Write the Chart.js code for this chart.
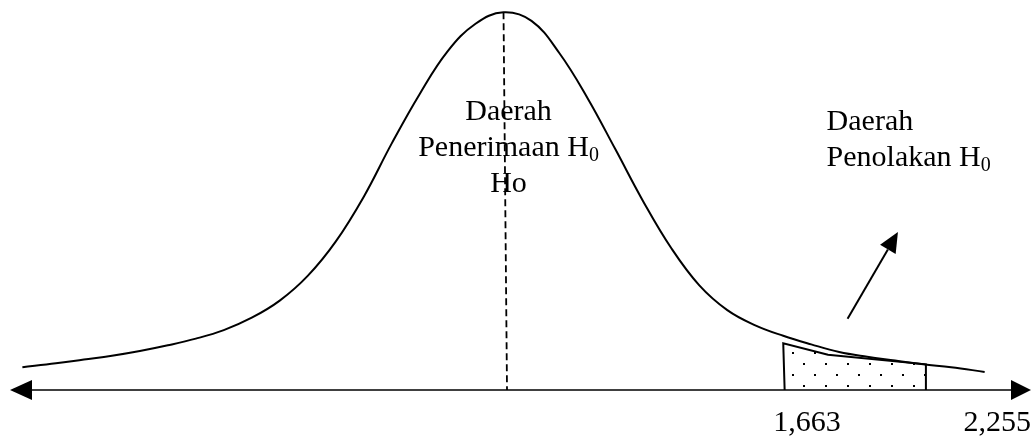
<!DOCTYPE html>
<html>
<head>
<meta charset="utf-8">
<script src="https://cdn.jsdelivr.net/npm/chart.js@4/dist/chart.umd.min.js"></script>
<style>
  html, body { margin: 0; padding: 0; background: #ffffff; }
  #wrap { width: 1035px; height: 438px; }
</style>
</head>
<body>
<div id="wrap"><canvas id="curveChart" width="1035" height="438"></canvas></div>
<script>
// ================= DATA =================

// bell curve (x in t-like units, y = height above axis)
const curveX = [-3.44, -3.2, -3.0, -2.8, -2.6, -2.4, -2.2, -2.0, -1.8, -1.6, -1.4, -1.2, -1.0, -0.8, -0.6, -0.4, -0.2,
                0, 0.2, 0.4, 0.6, 0.8, 1.0, 1.2, 1.4, 1.6, 1.8, 2.0, 2.2, 2.4, 2.6, 2.8, 3.0, 3.2, 3.44];
const curveY = [0.024, 0.028, 0.032, 0.036, 0.041, 0.047, 0.054, 0.063, 0.076, 0.094, 0.120, 0.156, 0.203, 0.259,
                0.311, 0.356, 0.385, 0.397, 0.388, 0.354, 0.307, 0.253, 0.198, 0.149, 0.110, 0.084, 0.068, 0.057,
                0.048, 0.040, 0.035, 0.031, 0.027, 0.024, 0.019];

// dotted rejection block
const rejectX = [2.01, 2.0, 2.32, 3.02, 3.02];
const rejectY = [0, 0.049, 0.037, 0.027, 0];

// dashed centre line
const meanX = [0, 0.025];
const meanY = [0.397, 0];

// arrow pointing to the rejection label
const arrowX = [2.46, 2.82];
const arrowY = [0.075, 0.166];

// axis labels
const tickValues = [2.17, 3.53];
const tickLabels = ["1,663", "2,255"];

const FONT = "'Liberation Serif', 'Times New Roman', serif";

// ================= HELPERS =================

function toPoints(xs, ys) {
    return xs.map((x, i) => ({ x: x, y: ys[i] }));
}

function dotPattern() {
    const tile = document.createElement("canvas");
    tile.width = 22;
    tile.height = 22;
    const c = tile.getContext("2d");
    c.fillStyle = "#000000";
    c.fillRect(0, 0, 2, 2);
    c.fillRect(11, 11, 2, 2);
    return document.getElementById("curveChart").getContext("2d").createPattern(tile, "repeat");
}

// text with a subscript "0" after it
function subWidth(ctx, main, sub) {
    ctx.font = "30px " + FONT;
    const w1 = ctx.measureText(main).width;
    ctx.font = "20px " + FONT;
    return w1 + ctx.measureText(sub).width;
}

function drawSub(ctx, main, sub, x, y) {
    ctx.textAlign = "left";
    ctx.font = "30px " + FONT;
    ctx.fillText(main, x, y);
    const w1 = ctx.measureText(main).width;
    ctx.font = "20px " + FONT;
    ctx.fillText(sub, x + w1, y + 5);
}

// ================= DECORATIONS =================

const decorations = {

    id: "decorations",

    afterDatasetsDraw(chart) {

        const { ctx } = chart;
        const xs = chart.scales.x;
        const ys = chart.scales.y;
        const area = chart.chartArea;

        ctx.save();
        ctx.fillStyle = "#000000";
        ctx.strokeStyle = "#000000";

        // axis with arrow heads on both ends
        const ay = ys.getPixelForValue(0);
        const left = area.left + 10;
        const right = area.right - 4;

        ctx.lineWidth = 1.5;
        ctx.beginPath();
        ctx.moveTo(left + 15, ay);
        ctx.lineTo(right - 15, ay);
        ctx.stroke();

        ctx.beginPath();
        ctx.moveTo(left, ay);
        ctx.lineTo(left + 22, ay - 10);
        ctx.lineTo(left + 22, ay + 10);
        ctx.closePath();
        ctx.fill();

        ctx.beginPath();
        ctx.moveTo(right, ay);
        ctx.lineTo(right - 20, ay - 10);
        ctx.lineTo(right - 20, ay + 10);
        ctx.closePath();
        ctx.fill();

        // arrow to the rejection label
        const x1 = xs.getPixelForValue(arrowX[0]);
        const y1 = ys.getPixelForValue(arrowY[0]);
        const x2 = xs.getPixelForValue(arrowX[1]);
        const y2 = ys.getPixelForValue(arrowY[1]);
        const len = Math.hypot(x2 - x1, y2 - y1);
        const ux = (x2 - x1) / len;
        const uy = (y2 - y1) / len;
        const bx = x2 - ux * 20;
        const by = y2 - uy * 20;

        ctx.lineWidth = 2;
        ctx.beginPath();
        ctx.moveTo(x1, y1);
        ctx.lineTo(bx, by);
        ctx.stroke();

        ctx.beginPath();
        ctx.moveTo(x2, y2);
        ctx.lineTo(bx - uy * 9, by + ux * 9);
        ctx.lineTo(bx + uy * 9, by - ux * 9);
        ctx.closePath();
        ctx.fill();

        // acceptance region text (centred on the mean)
        const cx = xs.getPixelForValue(0) + 5;
        const top = area.top;

        ctx.textAlign = "center";
        ctx.font = "30px " + FONT;
        ctx.fillText("Daerah", cx, top + 120);

        const w = subWidth(ctx, "Penerimaan H", "0");
        drawSub(ctx, "Penerimaan H", "0", cx - w / 2, top + 156);

        ctx.textAlign = "center";
        ctx.font = "30px " + FONT;
        ctx.fillText("Ho", cx, top + 192);

        // rejection region text
        const rx = xs.getPixelForValue(2.31);
        ctx.textAlign = "left";
        ctx.font = "30px " + FONT;
        ctx.fillText("Daerah", rx, top + 130);
        drawSub(ctx, "Penolakan H", "0", rx, top + 166);

        ctx.restore();
    }
};

// ================= CHART =================

new Chart(
    document.getElementById("curveChart"),
    {
        type: "line",

        data: {
            datasets: [
                {
                    label: "Daerah Penolakan",
                    data: toPoints(rejectX, rejectY),
                    borderColor: "#000000",
                    borderWidth: 2,
                    backgroundColor: dotPattern(),
                    fill: "origin",
                    tension: 0,
                    pointRadius: 0,
                    clip: false
                },
                {
                    label: "Kurva",
                    data: toPoints(curveX, curveY),
                    borderColor: "#000000",
                    borderWidth: 2,
                    fill: false,
                    tension: 0.4,
                    pointRadius: 0,
                    clip: false
                },
                {
                    label: "Rata-rata",
                    data: toPoints(meanX, meanY),
                    borderColor: "#000000",
                    borderWidth: 1.8,
                    borderDash: [7, 4],
                    fill: false,
                    tension: 0,
                    pointRadius: 0,
                    clip: false
                }
            ]
        },

        options: {
            responsive: false,
            animation: false,
            devicePixelRatio: 1,

            layout: {
                padding: { top: 0, left: 0, right: 0, bottom: 0 }
            },

            plugins: {
                legend: { display: false },
                tooltip: { enabled: false }
            },

            scales: {
                x: {
                    type: "linear",
                    min: -3.6,
                    max: 3.8,
                    grid: { display: false, drawTicks: false },
                    border: { display: false },
                    afterBuildTicks(axis) {
                        axis.ticks = tickValues.map(v => ({ value: v }));
                    },
                    afterFit(axis) {
                        axis.height = 48;
                        axis.paddingLeft = 0;
                        axis.paddingRight = 0;
                    },
                    ticks: {
                        autoSkip: false,
                        maxRotation: 0,
                        padding: 15,
                        color: "#000000",
                        font: { family: FONT, size: 30 },
                        callback: (value, index) => tickLabels[index]
                    }
                },
                y: {
                    display: false,
                    min: 0,
                    max: 0.41
                }
            }
        },

        plugins: [decorations]
    }
);
</script>
</body>
</html>
